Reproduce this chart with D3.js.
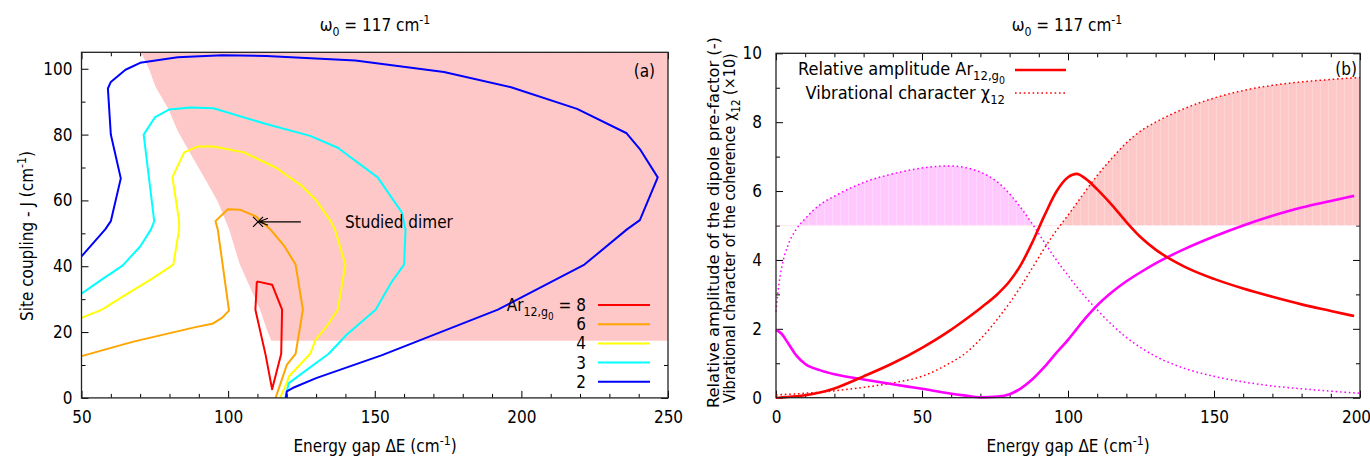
<!DOCTYPE html>
<html>
<head>
<meta charset="utf-8">
<script src="https://cdn.jsdelivr.net/npm/d3@7"></script>
<style>
  body { margin: 0; background: #fff; }
  svg text { font-family: "Liberation Sans Narrow", "DejaVu Sans Condensed", "Liberation Sans", sans-serif; fill: #000; }
</style>
</head>
<body>
<script>
// panel (a): contour lines of Ar_12,g0 in the (dE, J) plane
var levels = ['8', '6', '4', '3', '2'];
var levelColors = ['#ff0000', '#ffa500', '#ffff00', '#00ffff', '#0000ff'];

var contour8 = [[109.8,35.4],[115,34.4],[118.4,26.8],[118.1,13.4],[115,2.6],[112.8,13],[109.3,26.8],[109.8,35.4]];
var contour6 = [[50,12.7],[67.7,17.1],[88.9,21.5],[94.6,22.5],[97.9,24.3],[100.3,26.5],[96.5,51],[95.7,53.7],[99.9,57.3],
  [104,57.2],[109.4,55.2],[114.6,51],[119.2,46.1],[123,40.5],[125.5,26.8],[123,13.4],[120,10],[116.2,0]];
var contour4 = [[50,24.3],[57,26.8],[64.3,30.9],[73.7,36],[81.3,40.5],[83.3,51.2],[83.3,53.7],[81,67],[85,74.6],[89.7,76.4],
  [95,76.4],[105.4,74.6],[116.2,70],[125.2,64.4],[129.8,60.3],[135,53.7],[136.5,51],[140,40.5],[137.4,26.8],[133.6,21.7],
  [129.8,17.6],[128,13.4],[120.7,6.5],[120,4.5],[117.7,0]];
var contour3 = [[50,31.7],[57,36],[64,40.2],[70,46],[73.7,51.2],[74.8,53.7],[71.2,80],[75,85.2],[79.8,87.6],[87.3,88.2],
  [95,88],[113,83.2],[128,79.6],[137.4,76],[151,67],[159.3,56.3],[160.5,51],[160,40.5],[155.6,35],[150.3,26.8],[140.4,19.2],
  [134.3,13.4],[124.5,7],[120.7,4.5],[119.5,0]];
var contour2 = [[50,43],[58.1,51.2],[60,53.7],[63.4,66.7],[60,80],[59,94],[60,96],[65,99.7],[70,101.8],[82.8,103.5],
  [98,104.1],[113,103.9],[143.4,102.5],[173.6,99],[196.5,94.4],[219,87.8],[235.9,80.4],[240.4,75.6],[246.5,67],[240.4,54],
  [236,51.2],[221.5,40.5],[192,26.8],[152.5,13],[130,6],[122,3],[120,2],[119.7,0]];
var contours = [contour8, contour6, contour4, contour3, contour2];

// shaded region of panel (a)
var regionA = [[70.3,105],[73,100],[75.3,94.4],[79.5,88],[82.9,80.9],[87.4,73.8],[92,66.7],[96.5,59.6],[100.3,51.3],
  [104,40.5],[110.9,26.8],[113.2,20.7],[114.7,17.4],[250,17.4],[250,105]];
var studied = [110.2, 53.5];

// panel (b): curves against the energy gap
var gap = [0,1,2,4,7,10,15,20,30,40,50,59,65,70,76,80,84,88,92,96,100,103,106,110,115,120,125,130,140,150,160,170,180,190,198,200];
var ampRed = [0,0,0.01,0.02,0.04,0.07,0.15,0.27,0.62,1.0,1.45,1.92,2.28,2.6,3.02,3.38,3.88,4.55,5.3,5.98,6.4,6.5,6.36,6.05,
  5.6,5.1,4.65,4.3,3.8,3.45,3.17,2.93,2.71,2.52,2.37,2.34];
var chiRed = [0.08,0.08,0.09,0.1,0.11,0.13,0.16,0.2,0.3,0.43,0.62,0.98,1.3,1.7,2.3,2.75,3.25,3.8,4.35,4.85,5.3,5.65,6.0,6.45,
  6.95,7.4,7.75,8.0,8.4,8.7,8.92,9.07,9.17,9.24,9.29,9.3];
var ampMag = [1.97,1.92,1.85,1.6,1.22,0.98,0.8,0.68,0.53,0.39,0.26,0.13,0.06,0.01,0.03,0.1,0.28,0.55,0.9,1.3,1.68,2.0,2.31,
  2.68,3.06,3.38,3.65,3.9,4.32,4.68,5.0,5.28,5.52,5.71,5.86,5.9];
var chiMag = [2.5,3.3,3.8,4.4,4.9,5.2,5.6,5.85,6.25,6.5,6.67,6.73,6.68,6.55,6.25,5.92,5.5,5.02,4.5,4.0,3.55,3.22,2.92,2.55,
  2.12,1.75,1.45,1.2,0.85,0.62,0.46,0.34,0.26,0.19,0.14,0.13];
var fillLevel = 5;

var width = 1370,
    height = 458;
var FS = 17;

var svg = d3.select('body').append('svg')
    .attr('width', width)
    .attr('height', height);

// faint vertical seams in the filled areas
var defs = svg.append('defs');
[['hatchPink', '#ffc8c8', '#ffd6d6'], ['hatchMag', '#ffc8ff', '#ffd6ff']].forEach(function(p) {
  var pat = defs.append('pattern').attr('id', p[0]).attr('patternUnits', 'userSpaceOnUse')
    .attr('width', 8).attr('height', 10);
  pat.append('rect').attr('width', 8).attr('height', 10).attr('fill', p[1]);
  pat.append('rect').attr('width', 1).attr('height', 10).attr('fill', p[2]);
});

// text with sub/superscripts: parts = [[text, kind]]
var rich = function(t, parts, fs) {
  var shift = 0;
  parts.forEach(function(p) {
    var target = 0, size = fs;
    if (p[1] === 'sub') { target = fs * 0.3; size = fs * 0.72; }
    if (p[1] === 'sub2') { target = fs * 0.5; size = fs * 0.58; }
    if (p[1] === 'sup') { target = -fs * 0.42; size = fs * 0.72; }
    t.append('tspan').attr('dy', target - shift).attr('font-size', size).text(p[0]);
    shift = target;
  });
  return t;
};

var drawTicks = function(g, x, y, xs, ys) {
  var x0 = x.range()[0], x1 = x.range()[1], y0 = y.range()[0], y1 = y.range()[1];
  var defs = [
    [d3.axisBottom(x).tickValues(xs.major).tickSizeInner(-7).tickPadding(13), 'translate(0,' + y0 + ')', true],
    [d3.axisBottom(x).tickValues(xs.minor).tickSizeInner(-4).tickFormat(''), 'translate(0,' + y0 + ')', false],
    [d3.axisTop(x).tickValues(xs.major).tickSizeInner(-7).tickFormat(''), 'translate(0,' + y1 + ')', false],
    [d3.axisTop(x).tickValues(xs.minor).tickSizeInner(-4).tickFormat(''), 'translate(0,' + y1 + ')', false],
    [d3.axisLeft(y).tickValues(ys.major).tickSizeInner(-7).tickPadding(ys.pad), 'translate(' + x0 + ',0)', true],
    [d3.axisLeft(y).tickValues(ys.minor).tickSizeInner(-4).tickFormat(''), 'translate(' + x0 + ',0)', false],
    [d3.axisRight(y).tickValues(ys.major).tickSizeInner(-7).tickFormat(''), 'translate(' + x1 + ',0)', false],
    [d3.axisRight(y).tickValues(ys.minor).tickSizeInner(-4).tickFormat(''), 'translate(' + x1 + ',0)', false]
  ];
  var out = [];
  defs.forEach(function(d) {
    var a = g.append('g').attr('transform', d[1]).call(d[0].tickSizeOuter(0));
    a.select('.domain').remove();
    a.selectAll('line').attr('stroke', '#000').attr('stroke-width', 1);
    a.selectAll('text').attr('font-size', FS).attr('font-family', null);
    out.push(a);
  });
  return out;
};

// ---------------- panel (a)
var xa = d3.scaleLinear().domain([50, 250]).range([81.5, 668]);
var ya = d3.scaleLinear().domain([0, 105]).range([397.9, 52.3]);
var ga = svg.append('g');

drawTicks(ga, xa, ya,
  {major: [50, 100, 150, 200, 250], minor: d3.range(60, 250, 10).filter(function(v){ return v % 50; })},
  {major: [0, 20, 40, 60, 80, 100], minor: [10, 30, 50, 70, 90], pad: 9});

ga.append('clipPath').attr('id', 'clipA')
  .append('rect').attr('x', 81.5).attr('y', 52.3).attr('width', 668 - 81.5).attr('height', 397.9 - 52.3);

var lineA = d3.line().x(function(d){ return xa(d[0]); }).y(function(d){ return ya(d[1]); });

ga.append('path').attr('d', lineA(regionA) + 'Z').attr('fill', '#ffc8c8').attr('clip-path', 'url(#clipA)');

ga.selectAll('path.contour').data(contours).enter().append('path')
  .attr('class', 'contour')
  .attr('d', lineA)
  .attr('fill', 'none')
  .attr('stroke', function(d, i){ return levelColors[i]; })
  .attr('stroke-width', 2)
  .attr('stroke-linejoin', 'round')
  .attr('clip-path', 'url(#clipA)');

// studied dimer marker + arrow
var sx = xa(studied[0]), sy = ya(studied[1]);
ga.append('path').attr('d', 'M' + (sx - 5) + ',' + (sy - 5) + 'L' + (sx + 5) + ',' + (sy + 5) + 'M' + (sx - 5) + ',' + (sy + 5) + 'L' + (sx + 5) + ',' + (sy - 5))
  .attr('stroke', '#000').attr('stroke-width', 1.2);
var ax = xa(124.8);
ga.append('path').attr('d', 'M' + ax + ',' + sy + 'L' + (sx + 1) + ',' + sy + 'M' + (sx + 10) + ',' + (sy - 3.5) + 'L' + (sx + 1) + ',' + sy + 'L' + (sx + 10) + ',' + (sy + 3.5))
  .attr('stroke', '#000').attr('stroke-width', 1.2).attr('fill', 'none');
ga.append('text').attr('x', 345).attr('y', 228).attr('font-size', FS).text('Studied dimer');

ga.append('text').attr('x', 655).attr('y', 77).attr('text-anchor', 'end').attr('font-size', FS).text('(a)');

// legend (a)
var legA = ga.selectAll('g.leg').data(levels).enter().append('g').attr('class', 'leg')
  .attr('transform', function(d, i){ return 'translate(0,' + (305 + i * 19.2) + ')'; });
legA.append('line').attr('x1', 598).attr('x2', 650).attr('y1', 0).attr('y2', 0)
  .attr('stroke', function(d, i){ return levelColors[i]; }).attr('stroke-width', 2);
legA.each(function(d, i) {
  var t = d3.select(this).append('text').attr('x', 586).attr('y', 6).attr('text-anchor', 'end').attr('font-size', FS);
  if (i === 0) rich(t, [['Ar', 'n'], ['12,g', 'sub'], ['0', 'sub2'], [' = 8', 'n']], FS);
  else t.text(d);
});

ga.append('rect').attr('x', 81.5).attr('y', 52.3).attr('width', 668 - 81.5).attr('height', 397.9 - 52.3)
  .attr('fill', 'none').attr('stroke', '#222').attr('stroke-width', 1.3);

rich(ga.append('text').attr('x', 375).attr('y', 31).attr('text-anchor', 'middle').attr('font-size', FS),
  [['\u03c9', 'n'], ['0', 'sub'], [' = 117 cm', 'n'], ['-1', 'sup']], FS);
rich(ga.append('text').attr('x', 375).attr('y', 452).attr('text-anchor', 'middle').attr('font-size', FS),
  [['Energy gap \u0394E (cm', 'n'], ['-1', 'sup'], [')', 'n']], FS);
rich(ga.append('text').attr('transform', 'translate(33,236) rotate(-90)').attr('text-anchor', 'middle').attr('font-size', FS),
  [['Site coupling - J (cm', 'n'], ['-1', 'sup'], [')', 'n']], FS);

// ---------------- panel (b)
var xb = d3.scaleLinear().domain([0, 200]).range([776, 1360]);
var yb = d3.scaleLinear().domain([0, 10]).range([397.7, 53.3]);
var gb = svg.append('g');

var axesB = drawTicks(gb, xb, yb,
  {major: [0, 50, 100, 150, 200], minor: d3.range(10, 200, 10).filter(function(v){ return v % 50; })},
  {major: [0, 2, 4, 6, 8, 10], minor: [1, 3, 5, 7, 9], pad: 14});
// keep the last x label inside the picture
axesB[0].selectAll('.tick text').filter(function(d){ return d === 200; }).attr('dx', -4);

gb.append('clipPath').attr('id', 'clipFill')
  .append('rect').attr('x', 776).attr('y', 53.3).attr('width', 1360 - 776).attr('height', yb(fillLevel) - 53.3);

var pts = function(vals) { return gap.map(function(g, i){ return [g, vals[i]]; }); };
var areaB = d3.area().curve(d3.curveMonotoneX)
  .x(function(d){ return xb(d[0]); }).y0(yb(fillLevel)).y1(function(d){ return yb(d[1]); });
var lineB = d3.line().curve(d3.curveMonotoneX)
  .x(function(d){ return xb(d[0]); }).y(function(d){ return yb(d[1]); });

gb.append('path').attr('d', areaB(pts(chiMag))).attr('fill', 'url(#hatchMag)').attr('clip-path', 'url(#clipFill)');
gb.append('path').attr('d', areaB(pts(chiRed))).attr('fill', 'url(#hatchPink)').attr('clip-path', 'url(#clipFill)');

var series = [
  {vals: chiMag, color: '#ff00ff', dotted: true},
  {vals: chiRed, color: '#ff0000', dotted: true},
  {vals: ampMag, color: '#ff00ff', dotted: false},
  {vals: ampRed, color: '#ff0000', dotted: false}
];
gb.selectAll('path.curve').data(series).enter().append('path')
  .attr('class', 'curve')
  .attr('d', function(d){
    var p = pts(d.vals);
    if (!d.dotted) p = p.filter(function(q){ return q[0] <= 198; });
    return lineB(p);
  })
  .attr('fill', 'none')
  .attr('stroke', function(d){ return d.color; })
  .attr('stroke-width', function(d){ return d.dotted ? 1.5 : 2.6; })
  .attr('stroke-dasharray', function(d){ return d.dotted ? '1.6,2.8' : null; });

// legend (b)
rich(gb.append('text').attr('x', 1005).attr('y', 75).attr('text-anchor', 'end').attr('font-size', 18),
  [['Relative amplitude Ar', 'n'], ['12,g', 'sub'], ['0', 'sub2']], 18);
rich(gb.append('text').attr('x', 1005).attr('y', 99).attr('text-anchor', 'end').attr('font-size', 18),
  [['Vibrational character \u03c7', 'n'], ['12', 'sub']], 18);
gb.append('line').attr('x1', 1015).attr('x2', 1066).attr('y1', 70).attr('y2', 70)
  .attr('stroke', '#ff0000').attr('stroke-width', 2.6);
gb.append('line').attr('x1', 1015).attr('x2', 1066).attr('y1', 93).attr('y2', 93)
  .attr('stroke', '#ff0000').attr('stroke-width', 1.5).attr('stroke-dasharray', '1.6,2.8');

gb.append('text').attr('x', 1357).attr('y', 75).attr('text-anchor', 'end').attr('font-size', FS).text('(b)');

gb.append('rect').attr('x', 776).attr('y', 53.3).attr('width', 1360 - 776).attr('height', 397.7 - 53.3)
  .attr('fill', 'none').attr('stroke', '#222').attr('stroke-width', 1.3);

rich(gb.append('text').attr('x', 1067).attr('y', 31).attr('text-anchor', 'middle').attr('font-size', FS),
  [['\u03c9', 'n'], ['0', 'sub'], [' = 117 cm', 'n'], ['-1', 'sup']], FS);
rich(gb.append('text').attr('x', 1068).attr('y', 452).attr('text-anchor', 'middle').attr('font-size', FS),
  [['Energy gap \u0394E (cm', 'n'], ['-1', 'sup'], [')', 'n']], FS);
gb.append('text').attr('transform', 'translate(719,408) rotate(-90)').attr('font-size', 16)
  .attr('textLength', 371).attr('lengthAdjust', 'spacingAndGlyphs')
  .text('Relative amplitude of the dipole pre-factor (-)');
rich(gb.append('text').attr('transform', 'translate(735,403) rotate(-90)').attr('font-size', 16),
  [['Vibrational character of the coherence \u03c7', 'n'], ['12', 'sub'], [' (\u00d710)', 'n']], 16);
</script>
</body>
</html>
